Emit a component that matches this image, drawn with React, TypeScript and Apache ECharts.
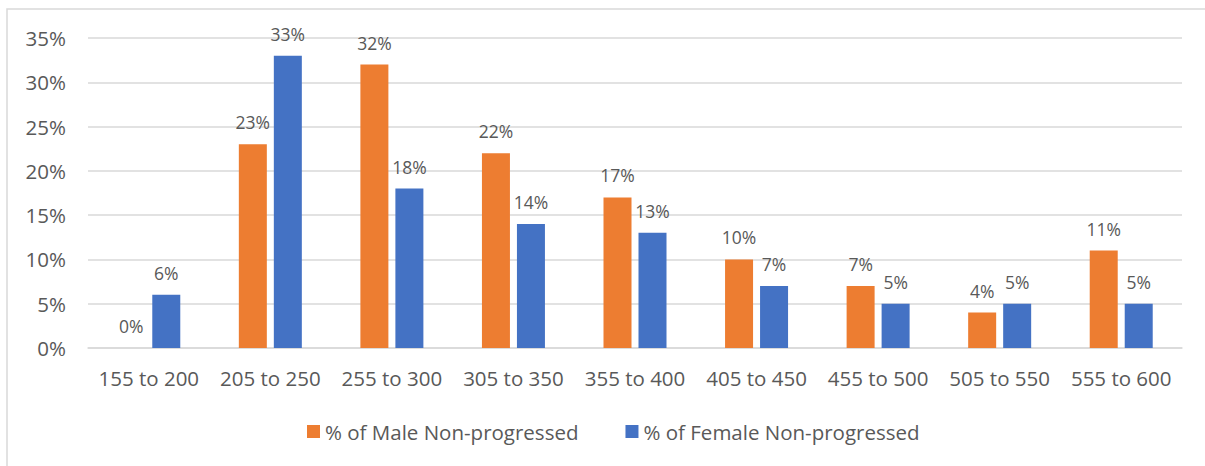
import React, { useEffect, useRef } from "react";
import * as echarts from "echarts";

const categories = ["155 to 200", "205 to 250", "255 to 300", "305 to 350", "355 to 400", "405 to 450", "455 to 500", "505 to 550", "555 to 600"];
const maleValues = [0, 23, 32, 22, 17, 10, 7, 4, 11];
const femaleValues = [6, 33, 18, 14, 13, 7, 5, 5, 5];
const seriesNames = ["% of Male Non-progressed", "% of Female Non-progressed"];

const FONT = "'Open Sans', 'Noto Sans', sans-serif";
const TEXT = "#595959";

export default function App() {
  const ref = useRef<HTMLDivElement>(null);
  useEffect(() => {
    if (!ref.current) return;
    const chart = echarts.init(ref.current, null, { renderer: "svg" });
    const label = {
      show: true,
      position: "top",
      distance: 13,
      formatter: "{c}%",
      color: TEXT,
      fontSize: 17.5,
      fontFamily: FONT,
    };
    chart.setOption({
      animation: false,
      backgroundColor: "#ffffff",
      textStyle: { fontFamily: FONT },
      graphic: [
        {
          type: "rect",
          shape: { x: 7, y: 9, width: 1400, height: 700 },
          style: { fill: "none", stroke: "#d9d9d9", lineWidth: 1.5 },
          silent: true,
        },
      ],
      grid: { left: 88, right: 23, top: 38, bottom: 118, containLabel: false },
      legend: {
        top: 416,
        left: 302,
        itemWidth: 13,
        itemHeight: 13,
        itemGap: 47,
        icon: "rect",
        textStyle: { color: TEXT, fontSize: 20.5, fontFamily: FONT },
        data: seriesNames,
      },
      xAxis: {
        type: "category",
        data: categories,
        axisLine: { lineStyle: { color: "#d9d9d9", width: 1.5 } },
        axisTick: { show: false },
        axisLabel: { color: TEXT, fontSize: 20.5, fontFamily: FONT, margin: 19, interval: 0 },
      },
      yAxis: {
        type: "value",
        min: 0,
        max: 35,
        interval: 5,
        axisLine: { show: false },
        axisTick: { show: false },
        splitLine: { lineStyle: { color: "#d9d9d9", width: 1.5 } },
        axisLabel: { color: TEXT, fontSize: 20.5, fontFamily: FONT, margin: 22, formatter: "{value}%" },
      },
      series: [
        {
          name: seriesNames[0],
          type: "bar",
          data: maleValues,
          barWidth: 28,
          barGap: "25%",
          itemStyle: { color: "#ED7D31" },
          label,
        },
        {
          name: seriesNames[1],
          type: "bar",
          data: femaleValues,
          barWidth: 28,
          barGap: "25%",
          itemStyle: { color: "#4472C4" },
          label,
        },
      ],
    });
    return () => chart.dispose();
  }, []);
  return (
    <div
      ref={ref}
      style={{ position: "fixed", left: 0, top: 0, width: 1205, height: 466 }}
    />
  );
}
